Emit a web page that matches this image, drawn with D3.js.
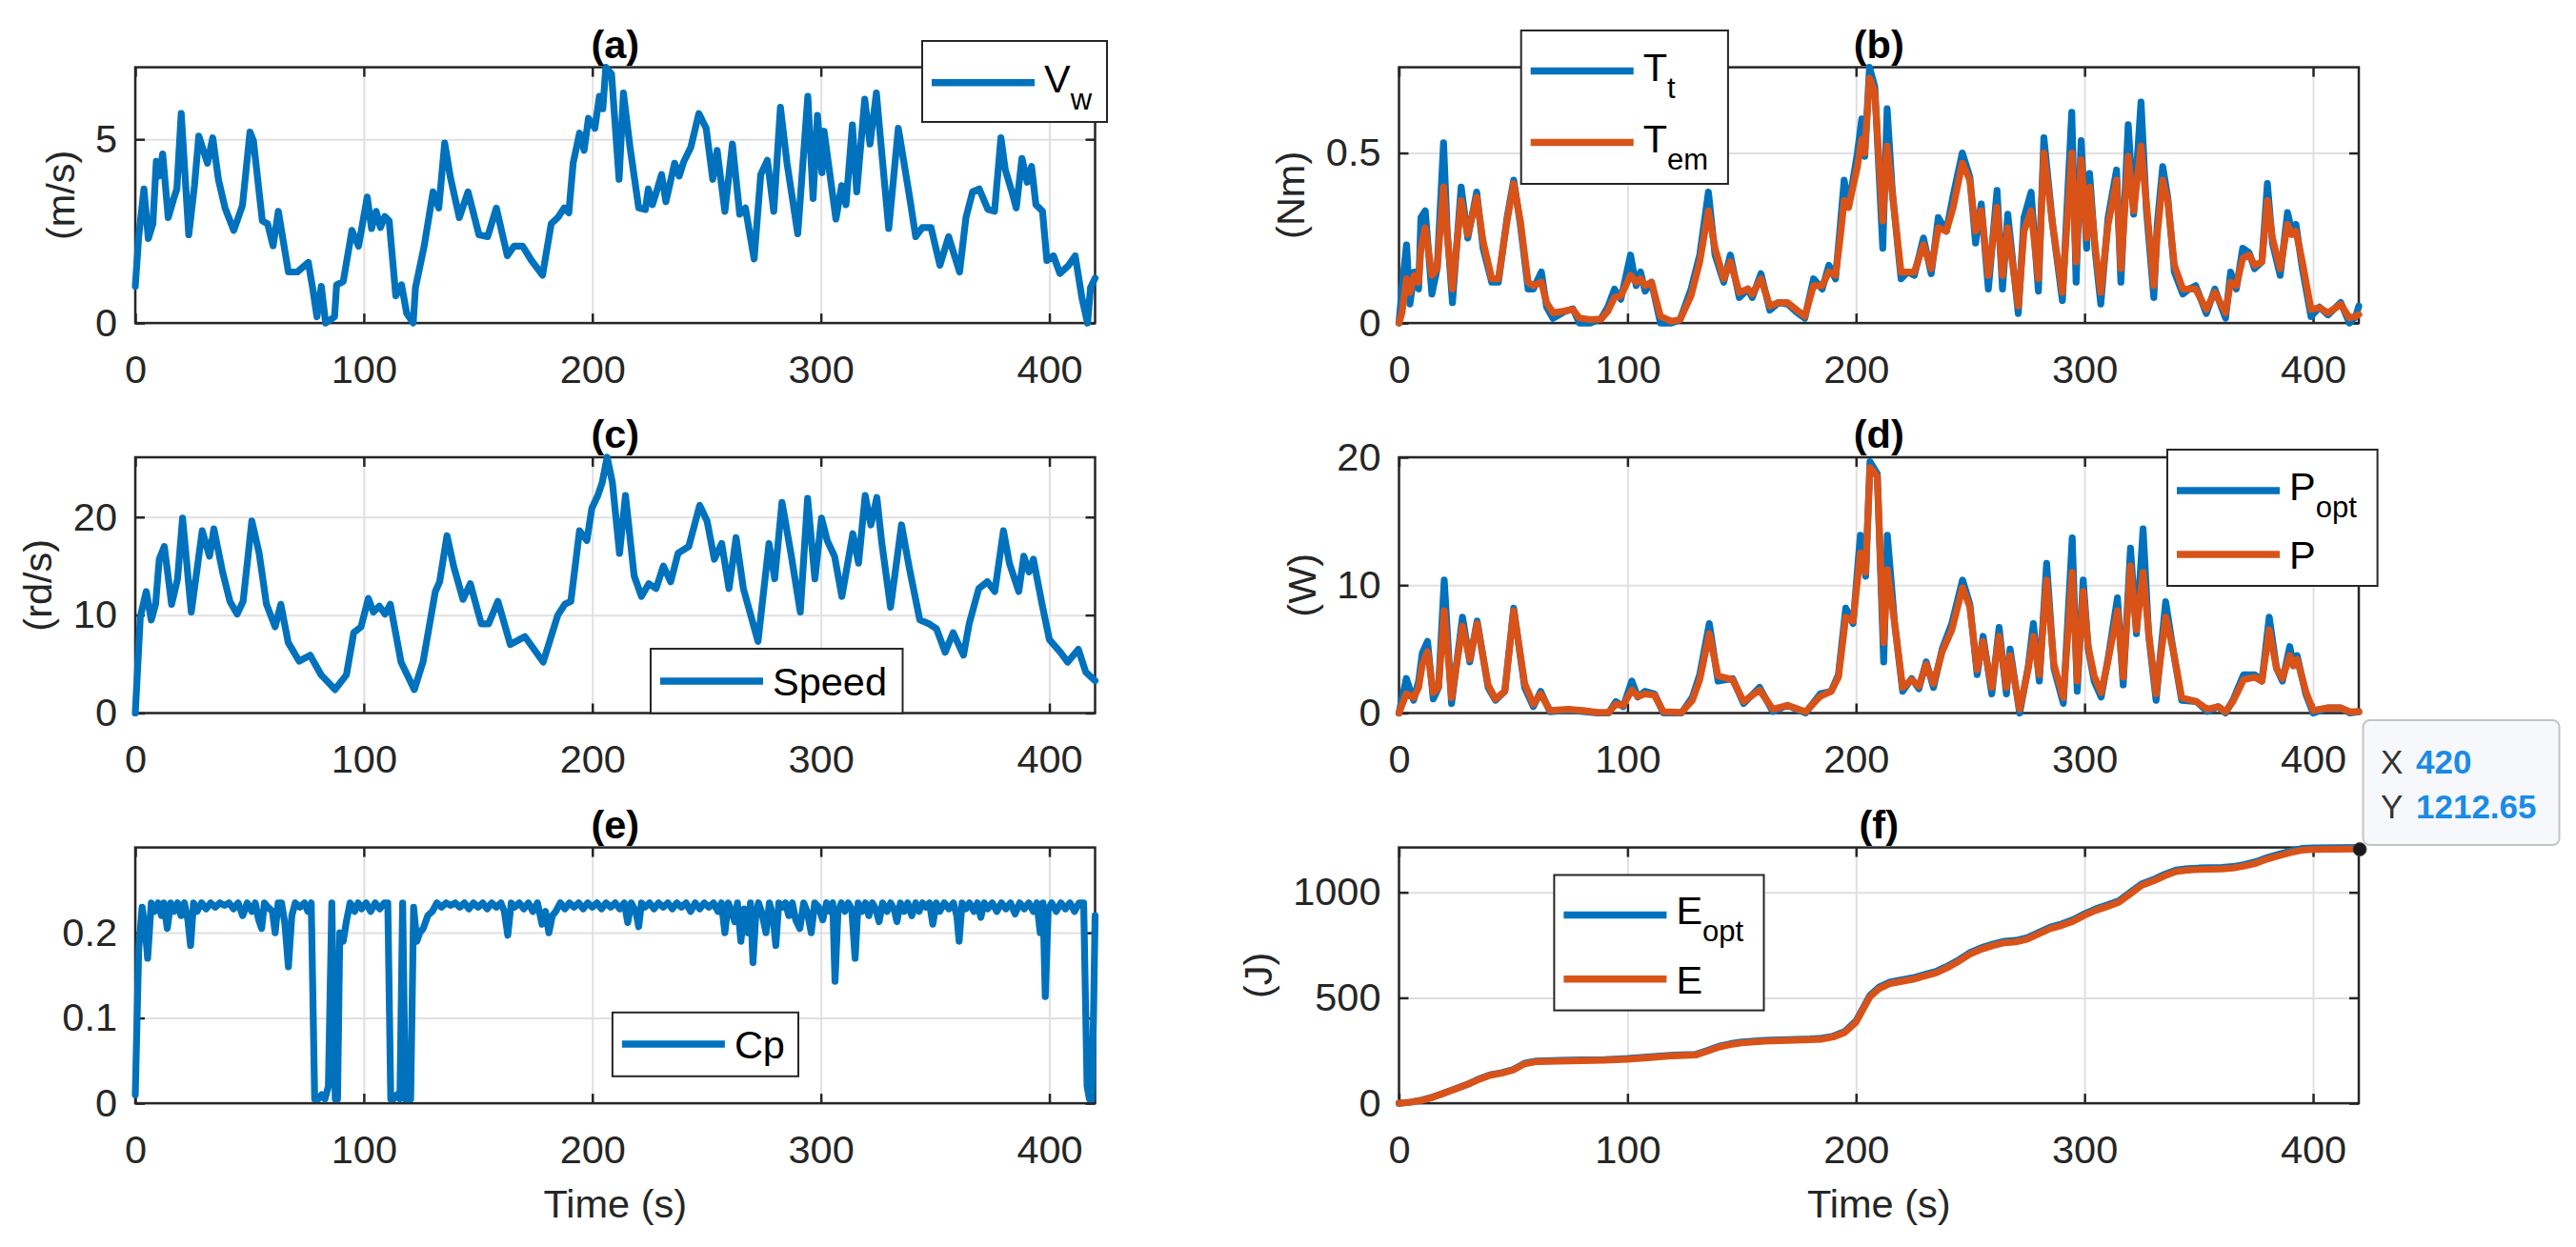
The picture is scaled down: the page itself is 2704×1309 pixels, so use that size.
<!DOCTYPE html>
<html><head><meta charset="utf-8">
<script src="https://cdn.jsdelivr.net/npm/d3@7"></script>
<style>
html,body{margin:0;padding:0;background:#fff;}
svg{display:block;}
text{font-family:'Liberation Sans',Arial,Helvetica,sans-serif;}
</style></head><body>
<svg id="chart" width="2704" height="1309"></svg>
<script>
// ---------------- DATA ----------------
const timeDomain = [0, 420];
const xTicks = [0, 100, 200, 300, 400];
const xTickLabels = ['0', '100', '200', '300', '400'];

// (a) wind speed Vw [time s, m/s]
const windSpeed = [[0,1.0],[1.5,2.35],[3.8,3.65],[5.7,2.3],[7.7,2.7],[9.2,4.4],[10.5,4.0],[12,4.6],[14.4,2.87],[16.9,3.4],[18.2,3.65],[20.1,5.7],[23.4,2.4],[25.9,3.74],[27.8,5.09],[31.6,4.35],[33.9,5.04],[36.4,3.9],[39.3,3.13],[43.1,2.52],[46.9,3.2],[50.2,5.2],[51.7,4.96],[55.6,2.78],[57.9,2.7],[60.3,2.1],[62.6,3.04],[67,1.39],[70.9,1.39],[75.7,1.65],[77.6,0.96],[79.5,0.17],[81.4,1.0],[83.3,0],[87.2,0.17],[88.1,1.04],[91,1.13],[94.8,2.52],[97.7,2.09],[101.5,3.43],[103.4,2.57],[105.4,3.04],[107.3,2.6],[109.2,2.9],[111.1,2.78],[114,0.74],[116.5,1.04],[118.8,0.26],[121.6,0],[122.6,0.96],[126.4,2.09],[130.3,3.57],[132.8,3.13],[135.4,4.9],[137.9,3.96],[141.8,2.87],[145.6,3.57],[150.4,2.4],[154.2,2.35],[158,3.13],[162.8,1.83],[165.7,2.09],[169.5,2.09],[173.4,1.7],[178.2,1.3],[182,2.7],[184.9,2.87],[187.7,3.13],[189.7,3.0],[191.6,4.35],[194.4,5.17],[196.4,4.7],[198.3,5.57],[201.1,5.3],[203.1,6.17],[204.6,5.83],[205.9,6.96],[208.4,6.78],[211.7,3.91],[213.6,6.26],[216.5,4.78],[220.3,3.13],[223.2,3.09],[224.5,3.65],[226.3,3.22],[228.2,3.6],[230.3,4.04],[232.2,3.3],[236,4.35],[238,4.0],[240,4.39],[243.1,4.78],[246.6,5.7],[249.8,5.3],[252.7,3.91],[254.6,4.7],[258,3.04],[261.3,4.87],[264.5,2.96],[267,3.13],[270.8,1.74],[273.7,4.04],[276.6,4.43],[279.4,3.04],[282.3,5.87],[285.2,4.35],[289.9,2.43],[294.3,6.17],[296.6,3.39],[298.5,5.65],[300.5,4.09],[301.4,5.22],[303.3,4.35],[306.6,2.83],[309.1,3.74],[311,3.22],[313.8,5.39],[315.7,3.57],[319.2,6.09],[321.5,4.87],[324.3,6.26],[326.3,4.87],[329.7,2.57],[333.9,5.3],[338.7,3.48],[341.5,2.35],[344.4,2.6],[348.2,2.6],[352.1,1.57],[355.9,2.35],[360.7,1.39],[363.5,2.87],[366.4,3.57],[369.3,3.65],[373.1,3.09],[376,3.04],[378.8,5.04],[380.7,4.17],[383.6,3.57],[385.5,3.13],[388,4.48],[390.3,3.83],[392.2,4.26],[394.1,3.22],[397,3.04],[398.9,1.7],[401.8,1.83],[404.6,1.35],[408.4,1.57],[411.3,1.83],[414.2,0.7],[416.7,0],[418,0.96],[420,1.22]];
const windYTicks = [0, 5];
const windYTickLabels = ['0', '5'];

// (b) turbine torque Tt and electromagnetic torque Tem [time s, Nm]
const turbineTorque = [[0,0],[1.3,0.10],[3.3,0.23],[4.8,0.056],[6.7,0.15],[8.6,0.10],[9.6,0.31],[11.5,0.33],[14.4,0.085],[16.7,0.16],[19.5,0.53],[21.1,0.27],[23.4,0.06],[27.2,0.40],[30.1,0.25],[34,0.385],[36.8,0.22],[40.6,0.12],[43.5,0.12],[47.3,0.31],[50.2,0.42],[53.1,0.29],[56.5,0.10],[58.8,0.10],[62.3,0.15],[64.6,0.047],[67.4,0.014],[72.2,0.033],[76.1,0.042],[78.9,0],[83.7,0],[88.5,0.014],[91.4,0.047],[94.3,0.10],[97.1,0.07],[101.3,0.20],[103.8,0.11],[105.7,0.15],[107.7,0.094],[110.5,0.12],[114.4,0],[119.2,0],[123,0.01],[127.8,0.10],[131.6,0.20],[135.4,0.385],[138.3,0.20],[142.1,0.12],[145,0.20],[148.9,0.075],[152.7,0.10],[154.6,0.075],[158.4,0.145],[162.3,0.038],[166.1,0.06],[170,0.056],[173.8,0.033],[177.6,0.014],[181.4,0.13],[185.2,0.10],[188.1,0.17],[191,0.13],[192.9,0.27],[194.8,0.42],[196.7,0.34],[200.6,0.50],[202.5,0.60],[203.8,0.49],[205.9,0.752],[208.2,0.695],[211.7,0.22],[213.6,0.63],[215.9,0.385],[219.7,0.13],[222.6,0.15],[225.5,0.14],[229.5,0.25],[232.9,0.145],[236,0.31],[239.5,0.27],[242.5,0.375],[246.5,0.50],[249.8,0.43],[252.3,0.235],[254.8,0.35],[257.9,0.10],[261.7,0.39],[264.1,0.10],[266.4,0.32],[271,0.028],[273.5,0.31],[276.6,0.385],[279.8,0.094],[282.2,0.545],[286,0.29],[290.3,0.066],[294.4,0.62],[296.3,0.12],[298.5,0.536],[300.9,0.22],[302.2,0.44],[304.7,0.207],[307.1,0.056],[310.3,0.31],[314,0.45],[315.9,0.12],[319.1,0.583],[321.5,0.32],[324.7,0.65],[327.1,0.33],[330.3,0.075],[331.8,0.29],[334.2,0.46],[336.4,0.37],[339.3,0.15],[343,0.085],[345.8,0.10],[348.6,0.11],[353.3,0.028],[357,0.10],[361.7,0.014],[363.9,0.15],[366.4,0.10],[369.2,0.22],[372,0.207],[374.4,0.16],[377.6,0.18],[380,0.41],[382.2,0.235],[385.6,0.14],[388.8,0.325],[390.7,0.27],[392.5,0.29],[395.3,0.16],[399.1,0.019],[402.8,0.047],[406.5,0.024],[412.1,0.06],[415.9,0],[418.7,0.019],[420,0.05]];
const emTorque = [[0,0],[1.3,0.03],[3.3,0.13],[4.8,0.09],[6.7,0.14],[8.6,0.12],[9.6,0.22],[11.5,0.28],[14.4,0.14],[16.7,0.16],[19.5,0.40],[21.1,0.26],[23.4,0.10],[27.2,0.36],[30.1,0.26],[34,0.37],[36.8,0.24],[40.6,0.13],[43.5,0.13],[47.3,0.30],[50.2,0.41],[53.1,0.30],[56.5,0.12],[58.8,0.11],[62.3,0.12],[64.6,0.06],[67.4,0.03],[72.2,0.035],[76.1,0.04],[78.9,0.015],[83.7,0.01],[88.5,0.012],[91.4,0.035],[94.3,0.075],[97.1,0.08],[101.3,0.14],[103.8,0.12],[105.7,0.13],[107.7,0.11],[110.5,0.12],[114.4,0.02],[119.2,0.005],[123,0.01],[127.8,0.08],[131.6,0.18],[135.4,0.33],[138.3,0.22],[142.1,0.13],[145,0.18],[148.9,0.09],[152.7,0.10],[154.6,0.085],[158.4,0.13],[162.3,0.05],[166.1,0.06],[170,0.06],[173.8,0.04],[177.6,0.02],[181.4,0.11],[185.2,0.11],[188.1,0.15],[191,0.14],[192.9,0.24],[194.8,0.36],[196.7,0.34],[200.6,0.46],[202.5,0.54],[203.8,0.50],[205.9,0.72],[208.2,0.68],[211.7,0.30],[213.6,0.52],[215.9,0.38],[219.7,0.15],[222.6,0.15],[225.5,0.15],[229.5,0.23],[232.9,0.16],[236,0.28],[239.5,0.27],[242.5,0.34],[246.5,0.47],[249.8,0.42],[252.3,0.27],[254.8,0.33],[257.9,0.14],[261.7,0.34],[264.1,0.14],[266.4,0.28],[271,0.05],[273.5,0.27],[276.6,0.33],[279.8,0.13],[282.2,0.50],[286,0.29],[290.3,0.09],[294.4,0.50],[296.3,0.18],[298.5,0.48],[300.9,0.25],[302.2,0.40],[304.7,0.22],[307.1,0.09],[310.3,0.29],[314,0.42],[315.9,0.16],[319.1,0.49],[321.5,0.33],[324.7,0.52],[327.1,0.35],[330.3,0.11],[331.8,0.26],[334.2,0.42],[336.4,0.36],[339.3,0.17],[343,0.10],[345.8,0.10],[348.6,0.10],[353.3,0.04],[357,0.09],[361.7,0.03],[363.9,0.12],[366.4,0.11],[369.2,0.19],[372,0.20],[374.4,0.17],[377.6,0.18],[380,0.36],[382.2,0.25],[385.6,0.16],[388.8,0.29],[390.7,0.26],[392.5,0.27],[395.3,0.18],[399.1,0.04],[402.8,0.045],[406.5,0.03],[412.1,0.055],[415.9,0.015],[418.7,0.02],[420,0.025]];
const torqueYTicks = [0, 0.5];
const torqueYTickLabels = ['0', '0.5'];

// (c) rotor speed [time s, rd/s]
const rotorSpeed = [[0,0],[2.2,9.8],[4.8,12.4],[7,9.5],[8.9,11.1],[10.5,15.7],[12.7,17],[15.9,11.1],[18.5,13.7],[20.7,19.9],[24.5,10.3],[29.3,18.6],[32.5,16],[34.4,18.8],[38.2,14.4],[41.4,11.4],[44.6,10.1],[47.2,11.4],[51,19.6],[54.2,16.3],[57.4,11.1],[61.2,8.8],[63.7,11.1],[66.9,7.2],[71.7,5.3],[76.5,5.9],[81.3,3.9],[87.4,2.4],[92.4,3.9],[95.6,8.2],[98.8,8.8],[102,11.7],[104.2,10.3],[106.8,10.9],[109.3,10.1],[111.6,11.1],[116.3,5.2],[122.1,2.4],[125.9,5.2],[131.3,12.4],[133.2,13.4],[136.4,18.1],[139.3,15],[143.4,11.6],[146.6,13.2],[151.4,9.1],[154.6,9.1],[158.7,11.4],[164.1,7],[170.5,7.8],[178.5,5.2],[184.9,10],[188,11.1],[190.6,11.4],[194.4,18.6],[197.6,17.6],[199.8,20.9],[202.4,22.2],[204.3,23.5],[206.5,26.1],[208.8,23.5],[211.9,16.3],[214.5,22.2],[218.3,14],[221.5,11.9],[224.7,13.2],[227.9,12.7],[231.1,15],[234.3,13.4],[237.5,16.3],[242.2,17],[247,21.2],[250.2,19.6],[253.4,15.7],[256.6,17.3],[259.8,12.7],[262.9,17.9],[266.1,12.7],[272.5,7.3],[277.3,17.3],[279.8,13.7],[283,21.5],[286.9,16.3],[291,10.3],[294.2,21.9],[297.4,13.7],[300.3,19.9],[302.8,17.6],[306,16],[309.2,11.9],[314,18.3],[316.5,15.3],[319.4,22.2],[321.9,19.2],[324.5,22],[326.7,17.3],[330.5,10.8],[335.3,19.2],[338.8,14.7],[343.3,9.5],[347.4,9.1],[350.6,8.6],[354.4,6.2],[357.9,8.2],[362.4,5.9],[364.9,9.1],[369.1,12.7],[372.9,13.4],[376.1,12.4],[379.9,18.6],[382.5,15.3],[386.6,12.4],[388.8,16],[391.1,14.4],[393,15.7],[396.8,11.1],[400,7.5],[404.8,6.2],[408,5.2],[412.7,6.5],[415.9,4.2],[420,3.3]];
const speedYTicks = [0, 10, 20];
const speedYTickLabels = ['0', '10', '20'];

// (d) optimal power Popt and power P [time s, W]
const optimalPower = [[0,0],[3.2,2.7],[6.4,1.0],[8.6,2.5],[10.2,4.7],[12.5,5.6],[15,1.1],[17.3,2.0],[19.8,10.4],[23,0.75],[27.8,7.5],[31,4.0],[34.2,7.2],[39,2.0],[42.2,1.0],[46.3,1.7],[50.2,8.2],[55,2.0],[58.8,0.5],[62,1.7],[66.1,0.1],[74.1,0.25],[80.5,0.12],[86.9,0],[91.7,0],[94.9,0.9],[98.1,0.5],[101.9,2.5],[104.5,1.25],[107.7,1.7],[111.8,1.5],[115.7,0],[123.6,0],[128.4,1.25],[131.6,3.0],[135.8,7.0],[139.6,2.5],[146,2.7],[150.8,0.75],[157.8,2.0],[163.6,0.12],[170,0.6],[177.9,0],[184.3,1.5],[189.1,1.7],[192.3,3.0],[195.5,8.2],[198.7,7.0],[201.9,13.9],[204.2,10.7],[206.1,19.65],[209.3,18.7],[212.1,4.0],[213.7,13.9],[216.9,7.0],[220.4,1.7],[224.3,2.7],[227.5,1.9],[230.7,4.0],[233.9,2.0],[237.7,5.0],[241.9,7.0],[246.6,10.4],[249.8,8.5],[253,3.0],[255.6,6.0],[259.4,1.5],[262.6,6.7],[265.8,1.5],[267.4,5.0],[271.6,0],[275.4,3.7],[277.6,7.0],[280.2,2.5],[283.4,11.7],[286.6,3.5],[290.7,0.75],[294.6,13.7],[296.8,1.7],[299.4,10.4],[301.6,5.0],[304.2,2.5],[307.3,1.25],[310.5,4.5],[314.4,9.0],[316.9,2.2],[320.1,12.9],[322.7,6.2],[325.6,14.4],[328.1,6.0],[331.3,1.0],[332.9,4.0],[335.5,8.7],[338.7,5.0],[342.5,1.0],[348.9,0.9],[353.7,0.12],[358.5,0.5],[361.7,0],[364.9,1.0],[369.6,3.0],[374.4,3.0],[377.6,2.5],[380.8,7.5],[384,3.5],[386.6,2.5],[389.8,5.2],[391.4,3.7],[393,4.5],[396.8,1.5],[400,0],[406.4,0.4],[412.1,0.4],[416,0],[420,0.1]];
const actualPower = [[0,0],[3.2,1.5],[6.4,1.2],[8.6,2.0],[10.2,3.8],[12.5,4.8],[15,1.6],[17.3,2.0],[19.8,8.0],[23,1.2],[27.8,6.8],[31,4.2],[34.2,7.0],[39,2.2],[42.2,1.1],[46.3,1.7],[50.2,8.0],[55,2.3],[58.8,0.7],[62,1.5],[66.1,0.2],[74.1,0.3],[80.5,0.2],[86.9,0.05],[91.7,0.05],[94.9,0.7],[98.1,0.6],[101.9,1.8],[104.5,1.3],[107.7,1.5],[111.8,1.4],[115.7,0.1],[123.6,0.05],[128.4,1.0],[131.6,2.6],[135.8,6.2],[139.6,2.9],[146,2.6],[150.8,0.9],[157.8,1.8],[163.6,0.3],[170,0.6],[177.9,0.1],[184.3,1.3],[189.1,1.7],[192.3,2.8],[195.5,7.5],[198.7,7.2],[201.9,12.5],[204.2,11.0],[206.1,19.2],[209.3,18.5],[212.1,5.5],[213.7,11.2],[216.9,7.0],[220.4,2.0],[224.3,2.6],[227.5,2.1],[230.7,3.8],[233.9,2.3],[237.7,4.8],[241.9,6.5],[246.6,9.8],[249.8,8.3],[253,3.4],[255.6,5.6],[259.4,2.0],[262.6,6.0],[265.8,2.0],[267.4,4.5],[271.6,0.3],[275.4,3.5],[277.6,6.0],[280.2,3.0],[283.4,10.4],[286.6,3.8],[290.7,1.2],[294.6,11.0],[296.8,2.5],[299.4,9.5],[301.6,5.2],[304.2,2.9],[307.3,1.6],[310.5,4.3],[314.4,8.0],[316.9,2.8],[320.1,11.5],[322.7,6.5],[325.6,11.0],[328.1,6.2],[331.3,1.5],[332.9,3.8],[335.5,7.5],[338.7,5.0],[342.5,1.2],[348.9,0.9],[353.7,0.3],[358.5,0.5],[361.7,0.1],[364.9,0.9],[369.6,2.6],[374.4,2.8],[377.6,2.5],[380.8,6.5],[384,3.5],[386.6,2.7],[389.8,4.5],[391.4,3.7],[393,4.2],[396.8,1.7],[400,0.2],[406.4,0.4],[412.1,0.4],[416,0.1],[420,0.1]];
const powerYLimits = [0, 20];
const powerYTicks = [0, 10, 20];
const powerYTickLabels = ['0', '10', '20'];

// (e) power coefficient Cp [time s, -]
const powerCoefficient = [[0,0.01],[1.5,0.18],[3,0.23],[4.5,0.2],[5.4,0.17],[7,0.235],[8.5,0.225],[10,0.235],[11.5,0.22],[12.5,0.235],[14,0.205],[15.5,0.235],[17,0.225],[18.5,0.235],[20,0.22],[21.5,0.235],[23,0.215],[24.2,0.185],[25.5,0.235],[27,0.225],[29,0.235],[31,0.228],[33,0.235],[35,0.23],[37,0.235],[39,0.232],[41,0.235],[43,0.228],[45,0.235],[47,0.22],[49,0.235],[51,0.225],[52.5,0.235],[54,0.215],[55.3,0.205],[56.5,0.235],[58,0.23],[60,0.225],[61.2,0.2],[62.5,0.235],[64,0.235],[65.5,0.21],[67,0.16],[68.5,0.22],[70,0.235],[72,0.23],[74,0.235],[75.5,0.225],[77,0.235],[78.5,0.005],[80,0.005],[81.5,0.01],[83,0.005],[84.5,0.02],[86,0.235],[87.5,0.005],[88.5,0.005],[89.5,0.2],[91,0.19],[92.5,0.215],[94,0.235],[96,0.225],[97.5,0.235],[99,0.228],[101,0.235],[103,0.225],[105,0.235],[107,0.228],[109,0.235],[110.5,0.235],[111.8,0.005],[113,0.005],[114.5,0.01],[115.8,0.005],[117,0.235],[118.2,0.005],[120.5,0.005],[121.8,0.23],[123.2,0.19],[124.5,0.2],[126,0.205],[128,0.22],[130,0.225],[132,0.235],[134,0.23],[136,0.235],[138,0.232],[140,0.235],[142,0.23],[144,0.235],[146,0.228],[148,0.235],[150,0.23],[152,0.235],[154,0.228],[156,0.235],[158,0.23],[160,0.235],[161.5,0.225],[163,0.197],[164.5,0.235],[166,0.23],[168,0.235],[170,0.228],[172,0.235],[174,0.225],[176,0.235],[178,0.21],[179.5,0.225],[181,0.2],[182.5,0.22],[184,0.225],[186,0.235],[188,0.228],[190,0.235],[192,0.23],[194,0.235],[196,0.228],[198,0.235],[200,0.23],[202,0.235],[204,0.228],[206,0.235],[208,0.23],[210,0.235],[212,0.228],[214,0.235],[215.5,0.212],[217,0.235],[219,0.225],[220.3,0.207],[221.5,0.235],[223,0.23],[225,0.235],[227,0.228],[229,0.235],[231,0.23],[233,0.235],[235,0.228],[237,0.235],[239,0.23],[241,0.235],[243,0.225],[245,0.235],[247,0.228],[249,0.235],[251,0.23],[253,0.235],[255,0.225],[256.5,0.235],[258,0.2],[259.5,0.235],[261,0.225],[262.3,0.213],[263.5,0.235],[265,0.19],[266.5,0.228],[268,0.2],[269.2,0.235],[270.3,0.165],[271.5,0.22],[272.7,0.235],[274,0.225],[276,0.2],[277.5,0.235],[279,0.22],[280.3,0.185],[281.6,0.235],[283,0.23],[284.5,0.235],[286,0.22],[287.5,0.235],[289,0.215],[290.8,0.205],[292.5,0.235],[294,0.225],[295.8,0.2],[297.3,0.235],[299,0.23],[300.8,0.215],[302.5,0.235],[304,0.225],[305.2,0.235],[306.2,0.143],[307.5,0.225],[309,0.235],[310.5,0.225],[312,0.235],[313.5,0.228],[315,0.17],[316.3,0.235],[318,0.225],[319.5,0.235],[321,0.22],[322.5,0.235],[324,0.228],[325.5,0.213],[327,0.235],[329,0.225],[330.5,0.235],[332,0.228],[333.3,0.213],[334.8,0.235],[336.5,0.225],[338,0.235],[339.8,0.22],[341.5,0.235],[343,0.225],[344.5,0.235],[346,0.23],[347.5,0.235],[349,0.21],[350.5,0.235],[352,0.225],[354,0.235],[356,0.228],[358,0.235],[359.5,0.22],[360.5,0.19],[361.8,0.235],[363.5,0.228],[365,0.235],[367,0.225],[368.5,0.235],[370,0.218],[371.5,0.235],[373,0.228],[375,0.235],[377,0.225],[379,0.235],[381,0.228],[383,0.235],[385,0.222],[387,0.235],[389,0.228],[391,0.235],[393,0.225],[394.5,0.235],[396,0.2],[397.2,0.235],[398.2,0.125],[399.5,0.228],[401,0.235],[403,0.225],[405,0.235],[407,0.228],[409,0.235],[411,0.225],[413,0.235],[415,0.235],[416.5,0.02],[417.5,0.005],[418.5,0.005],[419.3,0.1],[420,0.22]];
const cpYLimits = [0, 0.3];
const cpYTicks = [0, 0.1, 0.2];
const cpYTickLabels = ['0', '0.1', '0.2'];

// (f) energy Eopt and E [time s, J]
const optimalEnergy = [[0,0],[5,5],[10,15],[15,30],[20,50],[25,70],[30,90],[35,115],[40,135],[45,145],[50,160],[55,190],[60,200],[70,203],[80,205],[90,207],[100,212],[110,220],[120,228],[130,232],[135,250],[140,270],[145,282],[150,290],[160,298],[170,302],[180,305],[185,308],[190,318],[195,340],[200,390],[203,450],[206,510],[210,550],[215,575],[220,585],[225,595],[230,610],[235,625],[240,650],[245,680],[250,715],[255,738],[260,755],[265,768],[270,772],[275,785],[280,810],[285,835],[290,850],[295,870],[300,898],[305,922],[310,940],[315,960],[320,1000],[325,1040],[330,1060],[335,1085],[340,1105],[345,1112],[350,1115],[360,1118],[365,1122],[370,1132],[375,1145],[380,1165],[385,1180],[390,1195],[395,1208],[400,1210],[410,1212],[420,1212.65]];
const actualEnergy = [[0,0],[5,5],[10,14],[15,29],[20,49],[25,69],[30,89],[35,113],[40,133],[45,143],[50,158],[55,187],[60,197],[70,200],[80,202],[90,204],[100,209],[110,217],[120,225],[130,229],[135,247],[140,266],[145,278],[150,286],[160,294],[170,298],[180,301],[185,304],[190,314],[195,335],[200,384],[203,444],[206,503],[210,543],[215,568],[220,578],[225,588],[230,603],[235,618],[240,643],[245,673],[250,708],[255,731],[260,748],[265,761],[270,765],[275,778],[280,803],[285,828],[290,843],[295,863],[300,891],[305,915],[310,933],[315,953],[320,993],[325,1033],[330,1053],[335,1078],[340,1098],[345,1105],[350,1108],[360,1111],[365,1115],[370,1125],[375,1138],[380,1158],[385,1173],[390,1188],[395,1200],[400,1203],[410,1205],[420,1205.5]];
const energyYTicks = [0, 500, 1000];
const energyYTickLabels = ['0', '500', '1000'];

// ---------------- STYLE / LAYOUT ----------------
const BLUE = '#0072BD', ORANGE = '#D95319', AXIS = '#262626', GRID = '#e0e0e0';
const FONT = 41.5, SUB = 31, LINE_W = 7.2;
const colX = [142, 1468.5], rowY = [70.6, 480, 889.6], W = 1007.5, H = 268.5;

const panels = [
  {title:'(a)', col:0, row:0, ylabel:'(m/s)', series:[{data:windSpeed, color:BLUE}],
   yDomain:[0, d3.max(windSpeed, d=>d[1])], yTicks:windYTicks, yLabels:windYTickLabels,
   legend:{x:968, y:43, w:194, h:85, rows:[43.7]}, entries:[{main:'V', sub:'w', color:BLUE}]},
  {title:'(b)', col:1, row:0, ylabel:'(Nm)', series:[{data:turbineTorque, color:BLUE},{data:emTorque, color:ORANGE}],
   yDomain:[0, d3.max(turbineTorque, d=>d[1])], yTicks:torqueYTicks, yLabels:torqueYTickLabels,
   legend:{x:1596.7, y:32, w:217.2, h:161, rows:[42.6, 117.5]}, entries:[{main:'T', sub:'t', color:BLUE},{main:'T', sub:'em', color:ORANGE}]},
  {title:'(c)', col:0, row:1, ylabel:'(rd/s)', series:[{data:rotorSpeed, color:BLUE}],
   yDomain:[0, d3.max(rotorSpeed, d=>d[1])], yTicks:speedYTicks, yLabels:speedYTickLabels,
   legend:{x:683, y:681, w:264.5, h:67.6, rows:[34]}, entries:[{main:'Speed', color:BLUE}]},
  {title:'(d)', col:1, row:1, ylabel:'(W)', series:[{data:optimalPower, color:BLUE},{data:actualPower, color:ORANGE}],
   yDomain:powerYLimits, yTicks:powerYTicks, yLabels:powerYTickLabels,
   legend:{x:2275, y:472, w:220.6, h:143, rows:[43, 110]}, entries:[{main:'P', sub:'opt', color:BLUE},{main:'P', color:ORANGE}]},
  {title:'(e)', col:0, row:2, ylabel:null, xlabel:'Time (s)', series:[{data:powerCoefficient, color:BLUE}],
   yDomain:cpYLimits, yTicks:cpYTicks, yLabels:cpYTickLabels,
   legend:{x:642.9, y:1062.8, w:195.1, h:67, rows:[33.2]}, entries:[{main:'Cp', color:BLUE}]},
  {title:'(f)', col:1, row:2, ylabel:'(J)', xlabel:'Time (s)', series:[{data:optimalEnergy, color:BLUE},{data:actualEnergy, color:ORANGE}],
   yDomain:[0, d3.max(optimalEnergy, d=>d[1])], yTicks:energyYTicks, yLabels:energyYTickLabels,
   legend:{x:1631.4, y:918.5, w:220.1, h:142.1, rows:[41.9, 109.3]}, entries:[{main:'E', sub:'opt', color:BLUE},{main:'E', color:ORANGE}],
   datatip:true}
];

const svg = d3.select('#chart');
svg.append('rect').attr('width', 2704).attr('height', 1309).attr('fill', '#fff');

function styleAxis(sel) {
  sel.attr('font-size', FONT).attr('font-family', "'Liberation Sans',Arial,sans-serif").attr('color', AXIS);
  sel.select('.domain').remove();
  sel.selectAll('.tick line').attr('stroke-width', 2.5);
}

let fScales = null;
panels.forEach(p => {
  const g = svg.append('g').attr('transform', `translate(${colX[p.col]},${rowY[p.row]})`);
  const x = d3.scaleLinear().domain(timeDomain).range([0, W]);
  const y = d3.scaleLinear().domain(p.yDomain).range([H, 0]);

  // grid
  g.append('g').attr('transform', `translate(0,${H})`)
    .call(d3.axisBottom(x).tickValues(xTicks).tickSize(-H).tickFormat(''))
    .call(s => { s.select('.domain').remove(); s.selectAll('line').attr('stroke', GRID).attr('stroke-width', 2); });
  g.append('g')
    .call(d3.axisLeft(y).tickValues(p.yTicks).tickSize(-W).tickFormat(''))
    .call(s => { s.select('.domain').remove(); s.selectAll('line').attr('stroke', GRID).attr('stroke-width', 2); });

  // frame
  g.append('rect').attr('width', W).attr('height', H).attr('fill', 'none').attr('stroke', AXIS).attr('stroke-width', 2.5);

  // axes with inward ticks on all sides
  g.append('g').attr('transform', `translate(0,${H})`)
    .call(d3.axisBottom(x).tickValues(xTicks).tickSizeInner(-10).tickSizeOuter(0).tickPadding(33).tickFormat((d, i) => xTickLabels[i]))
    .call(styleAxis);
  g.append('g')
    .call(d3.axisTop(x).tickValues(xTicks).tickSizeInner(-10).tickSizeOuter(0).tickFormat(''))
    .call(styleAxis);
  const yAxisG = g.append('g')
    .call(d3.axisLeft(y).tickValues(p.yTicks).tickSizeInner(-10).tickSizeOuter(0).tickPadding(19).tickFormat((d, i) => p.yLabels[i]))
    .call(styleAxis);
  g.append('g').attr('transform', `translate(${W},0)`)
    .call(d3.axisRight(y).tickValues(p.yTicks).tickSizeInner(-10).tickSizeOuter(0).tickFormat(''))
    .call(styleAxis);

  // data lines
  const line = d3.line().x(d => x(d[0])).y(d => y(d[1]));
  p.series.forEach(s => {
    g.append('path').datum(s.data).attr('d', line).attr('fill', 'none')
      .attr('stroke', s.color).attr('stroke-width', LINE_W).attr('stroke-linejoin', 'round').attr('stroke-linecap', 'round');
  });

  // title
  g.append('text').attr('x', W / 2).attr('y', -10).attr('text-anchor', 'middle')
    .attr('font-size', FONT).attr('font-weight', 'bold').attr('fill', '#000').text(p.title);

  // y label
  if (p.ylabel) {
    let minX = Infinity;
    yAxisG.selectAll('text').each(function () { minX = Math.min(minX, this.getBBox().x); });
    const cx = minX - 34;
    g.append('text').attr('transform', `translate(${cx},${H / 2}) rotate(-90)`).attr('text-anchor', 'middle')
      .attr('dy', '0.28em').attr('font-size', FONT).attr('fill', AXIS).text(p.ylabel);
  }
  // x label
  if (p.xlabel) {
    g.append('text').attr('x', W / 2).attr('y', H + 120).attr('text-anchor', 'middle')
      .attr('font-size', FONT).attr('fill', AXIS).text(p.xlabel);
  }
  if (p.datatip) fScales = {x, y, g, p};
});

// legends
panels.forEach(p => {
  const L = p.legend;
  const g = svg.append('g');
  g.append('rect').attr('x', L.x).attr('y', L.y).attr('width', L.w).attr('height', L.h)
    .attr('fill', '#fff').attr('stroke', AXIS).attr('stroke-width', 2);
  p.entries.forEach((e, i) => {
    const ly = L.y + L.rows[i];
    g.append('line').attr('x1', L.x + 10).attr('x2', L.x + 118).attr('y1', ly).attr('y2', ly)
      .attr('stroke', e.color).attr('stroke-width', 7.5);
    const t = g.append('text').attr('x', L.x + 128).attr('y', ly + (e.sub ? 10 : 15))
      .attr('font-size', FONT).attr('fill', '#000');
    t.append('tspan').text(e.main);
    if (e.sub) t.append('tspan').attr('dy', 18).attr('font-size', SUB).text(e.sub);
  });
});

// data tip on (f)
if (fScales) {
  const last = optimalEnergy[optimalEnergy.length - 1];
  const mx = colX[1] + fScales.x(last[0]);
  const my = rowY[2] + fScales.y(last[1]);
  const tip = svg.append('g');
  tip.append('rect').attr('x', mx + 4.5).attr('y', my - 133.5).attr('width', 206).attr('height', 131)
    .attr('rx', 7).attr('fill', '#f7f8fb').attr('stroke', '#c4c4c4').attr('stroke-width', 2);
  const rows = [['X', d3.format('~g')(last[0]), my - 78], ['Y', d3.format('.2f')(last[1]), my - 30.5]];
  rows.forEach(r => {
    const t = tip.append('text').attr('x', mx + 23).attr('y', r[2]).attr('font-size', 35);
    t.append('tspan').attr('fill', '#333').text(r[0]);
    t.append('tspan').attr('x', mx + 60).attr('fill', '#1a8be6').attr('font-weight', 'bold').text(r[1]);
  });
  tip.append('circle').attr('cx', mx + 1).attr('cy', my + 2).attr('r', 7).attr('fill', '#1a1a1a').attr('stroke', '#444').attr('stroke-width', 1);
}
</script>
</body></html>
